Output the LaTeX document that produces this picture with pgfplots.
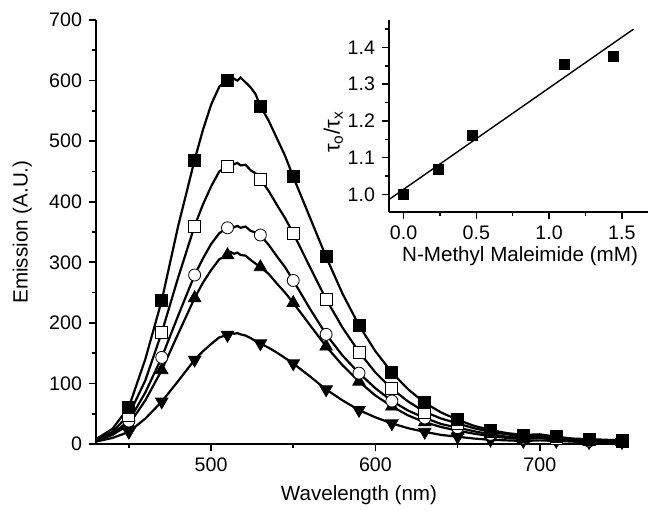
\documentclass[border=0pt]{standalone}
\usepackage{fontspec}
\setmainfont{Liberation Sans}
\usepackage{pgfplots}
\usepackage{pgfplotstable}
\pgfplotsset{compat=1.18}

% emission spectra, dense points for the lines
\pgfplotstableread{
x   s1  s2  s3  s4  s5
430 8   6   5   5   4
440 25  20  17  15  10
450 61  48  38  32  20
460 140 105 85  72  42
470 237 184 143 122 70
480 360 275 212 182 104
490 469 360 279 241 139
495 518 395 306 266 153
500 560 425 330 287 165
505 590 450 348 305 176
510 601 459 357 312 180
512 598 466 361 317 184
514 603 462 358 314 182
516 600 464 360 316 183
518 605 460 357 312 181
521 597 461 359 311 179
524 589 452 352 304 175
527 578 447 349 298 170
530 558 437 345 292 166
535 534 418 329 281 159
540 505 395 310 265 151
545 476 373 292 250 142
550 441 348 270 233 133
560 375 293 224 197 112
570 309 239 181 161 90
580 248 192 146 130 72
590 196 152 117 103 56
600 153 118 92  80  44
610 118 91  71  62  34
620 90  70  55  47  26
630 68  53  43  36  20
640 52  42  33  28  15
650 40  34  27  22  12
660 30  26  21  17  9
670 23  20  16  13  7
680 18  16  12  10  6
690 15  12  10  8   5
700 16  14  12  10  6
710 12  10  8   7   5
720 9   8   6   5   4
730 8   7   5   4   3
740 7   6   4   4   3
750 6   5   4   3   3
}\spectra

% marker positions, every 20 nm
\pgfplotstableread{
x   s1  s2  s3  s4  s5
450 61  48  38  32  20
470 237 184 143 122 70
490 469 360 279 241 139
510 601 459 357 312 180
530 558 437 345 292 166
550 441 348 270 233 133
570 309 239 181 161 90
590 196 152 117 103 56
610 118 91  71  62  34
630 68  53  43  36  20
650 40  34  27  22  12
670 23  20  16  13  7
690 15  12  10  8   5
710 12  10  8   7   5
730 8   7   5   4   3
750 6   5   4   3   3
}\markpts

\pgfplotsset{
  originax/.style={
    scale only axis,
    axis x line*=bottom, axis y line*=left,
    axis line style={-, line width=1pt},
    tick align=outside,
    major tick length=3.5pt, minor tick length=2pt,
    every tick/.style={black, line width=0.8pt},
    minor tick num=1,
    tick label style={font=\fontsize{9.8}{11}\selectfont},
    label style={font=\fontsize{10.3}{12}\selectfont},
    /pgf/number format/assume math mode=true,
    clip=false,
  },
  spec/.style={black, line width=1.1pt, no marks},
  mk/.style={only marks, mark size=3pt, mark options={solid, draw=black, line width=0.6pt}},
}

\begin{document}
\begin{tikzpicture}
\path[use as bounding box] (-48pt,-33pt) rectangle (276pt,222pt);

\begin{axis}[originax,
  width=263pt, height=212pt,
  xmin=430, xmax=750, ymin=0, ymax=700,
  xtick={500,600,700}, ytick={0,100,...,700},
  minor xtick={450,550,650,750},
  xlabel={Wavelength (nm)}, ylabel={Emission (A.U.)},
  xlabel style={at={(axis description cs:0.5,-0.12)}, anchor=center},
  ylabel style={at={(axis description cs:-0.14,0.5)}, anchor=center},
]
\addplot[spec] table[x=x,y=s5] {\spectra};
\addplot[spec] table[x=x,y=s4] {\spectra};
\addplot[spec] table[x=x,y=s3] {\spectra};
\addplot[spec] table[x=x,y=s2] {\spectra};
\addplot[spec] table[x=x,y=s1] {\spectra};
\addplot[mk, mark=triangle*, mark size=3.6pt, mark options={rotate=180, fill=black}] table[x=x,y=s5] {\markpts};
\addplot[mk, mark=triangle*, mark size=3.6pt, mark options={fill=black}] table[x=x,y=s4] {\markpts};
\addplot[mk, mark=*, mark options={fill=white}] table[x=x,y=s3] {\markpts};
\addplot[mk, mark=square*, mark options={fill=white}] table[x=x,y=s2] {\markpts};
\addplot[mk, mark=square*, mark options={fill=black}] table[x=x,y=s1] {\markpts};
\end{axis}

% inset: lifetime ratio
\begin{axis}[originax,
  at={(146.5pt,116pt)}, anchor=south west,
  width=129.5pt, height=96pt,
  axis line style={-, line width=0.8pt},
  xmin=-0.1, xmax=1.68, ymin=0.952, ymax=1.475,
  xtick={0,0.5,1,1.5}, ytick={1.0,1.1,...,1.45},
  xticklabel style={/pgf/number format/.cd, fixed, fixed zerofill, precision=1},
  yticklabel style={/pgf/number format/.cd, fixed, fixed zerofill, precision=1},
  xlabel={N-Methyl Maleimide (mM)},
  ylabel={\fontsize{11}{12}\selectfont τ\textsubscript{o}/τ\textsubscript{x}},
  xlabel style={at={(axis description cs:0.506,-0.229)}, anchor=center},
  ylabel style={at={(axis description cs:-0.215,0.417)}, anchor=center},
]
\addplot[black, line width=0.7pt] coordinates {(-0.1,0.986) (1.58,1.450)};
\addplot[mk, mark=square*, mark size=2.5pt, mark options={fill=black}] coordinates {
  (0,1.000) (0.24,1.069) (0.474,1.162) (1.106,1.353) (1.442,1.377)};
\end{axis}
\end{tikzpicture}
\end{document}
